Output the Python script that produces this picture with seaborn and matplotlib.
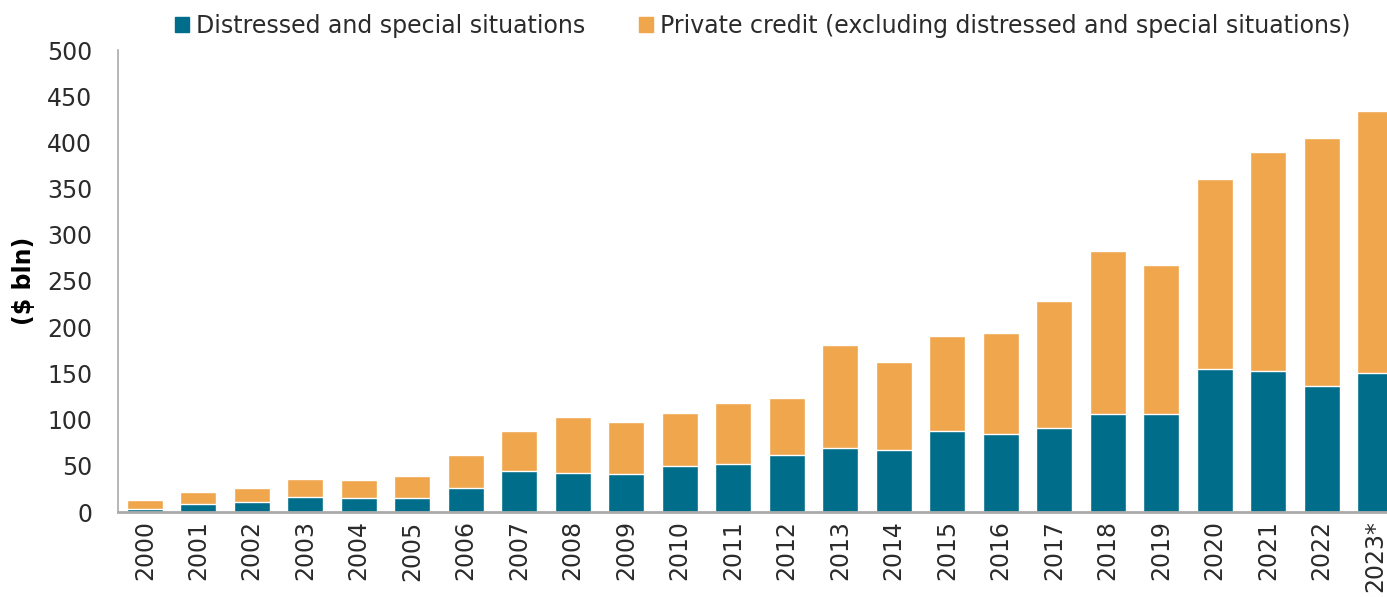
import matplotlib
matplotlib.use("Agg")
import matplotlib.pyplot as plt
from matplotlib.patches import Patch
import seaborn as sns
import numpy as np

years = ["2000", "2001", "2002", "2003", "2004", "2005", "2006", "2007", "2008",
         "2009", "2010", "2011", "2012", "2013", "2014", "2015", "2016", "2017",
         "2018", "2019", "2020", "2021", "2022", "2023*"]
distressed = [3, 9, 11, 16.5, 15, 15.5, 26, 44, 42, 41, 50, 52, 62, 69, 67,
              88, 84, 91, 106, 106, 155, 153, 136, 150]
private_credit = [10, 13, 15, 19.5, 20, 23.5, 36, 44, 61, 56, 57, 66, 61, 112,
                  95, 102, 110, 137, 177, 161, 205, 237, 269, 284]
y_ticks = [0, 50, 100, 150, 200, 250, 300, 350, 400, 450, 500]

teal = "#006E8A"
orange = "#F0A64C"
text_color = "#2b2b2b"
axis_gray = "#AAAAAA"
fs = 17

sns.set_theme(style="white")
plt.rcParams["font.family"] = ["DejaVu Sans"]

fig = plt.figure(figsize=(13.87, 5.97), dpi=100)
ax = fig.add_axes([118 / 1387, 1 - 512 / 597, (1402 - 118) / 1387, (512 - 50) / 597])

totals = np.array(distressed) + np.array(private_credit)
sns.barplot(x=years, y=totals, color=orange, width=0.67, saturation=1, ax=ax)
sns.barplot(x=years, y=distressed, color=teal, width=0.67, saturation=1, ax=ax)

ax.set_xlim(-0.5, len(years) - 0.5)
ax.set_ylim(0, 500)
ax.set_yticks(y_ticks)
ax.set_yticklabels([str(t) for t in y_ticks], fontsize=fs, color=text_color)
ax.set_xticks(range(len(years)))
ax.set_xticklabels(years, rotation=90, fontsize=fs, color=text_color)
ax.tick_params(axis="x", length=0, pad=6)
ax.tick_params(axis="y", length=0, pad=18.5)

for side in ("top", "right"):
    ax.spines[side].set_visible(False)
for side in ("left", "bottom"):
    ax.spines[side].set_color(axis_gray)
ax.spines["left"].set_linewidth(1.2)
ax.spines["bottom"].set_linewidth(2)

ax.set_xlabel("")
ax.set_ylabel("($ bln)", fontsize=fs, fontweight="bold", color="black", labelpad=8)

handles = [Patch(color=teal, label="Distressed and special situations"),
           Patch(color=orange, label="Private credit (excluding distressed and special situations)")]
fig.legend(handles=handles, loc="center left", bbox_to_anchor=(154 / 1387, 1 - 26 / 597),
           ncol=2, frameon=False, fontsize=fs, handlelength=0.6, handleheight=0.6,
           handletextpad=0.3, columnspacing=2.25, labelcolor=text_color)

fig.savefig("out.png", dpi=100)
